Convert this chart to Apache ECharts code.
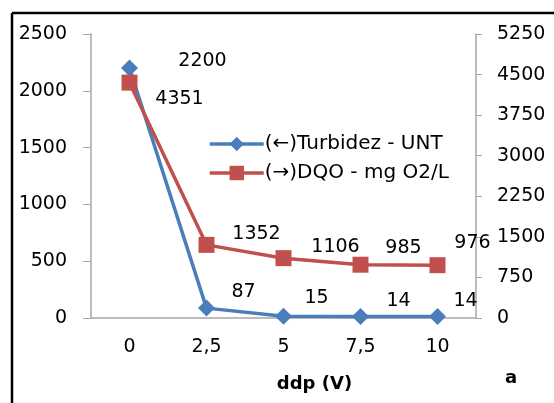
<!DOCTYPE html>
<html>
<head>
<meta charset="utf-8">
<script src="https://cdn.jsdelivr.net/npm/echarts@6/dist/echarts.min.js"></script>
<style>
  html, body { margin: 0; padding: 0; background: #fff; }
  #chart { width: 554px; height: 403px; }
</style>
</head>
<body>
<div id="chart"></div>
<script>
// valores
const ddpLabels = ['0', '2,5', '5', '7,5', '10'];
const turbidez = [2200, 87, 15, 14, 14];
const dqo = [4351, 1352, 1106, 985, 976];
const leftTicks = [0, 2500, 500];
const rightTicks = [0, 5250, 750];

// deslocamento dos rotulos (estilo, nao dados)
const turbOffsets = [[73, -7], [37, -16], [33, -18], [38, -15], [28, -15]];
const dqoOffsets = [[50, 16], [50, -11], [52, -11], [43, -17], [35, -22]];

const FONT = 'DejaVu Sans';
const FS = 19;
const axisGray = '#a6a6a6';

function withLabels(values, offsets) {
  return values.map(function (v, i) {
    return { value: v, label: { offset: offsets[i] } };
  });
}
function plain(v) { return String(v); }

const chart = echarts.init(document.getElementById('chart'));
chart.setOption({
  animation: false,
  textStyle: { fontFamily: FONT },
  grid: { left: 91, right: 78, top: 34, bottom: 85 },
  legend: {
    orient: 'vertical',
    left: 203,
    top: 129,
    itemWidth: 54,
    itemHeight: 18,
    itemGap: 9,
    lineStyle: { width: 3.5 },
    textStyle: { fontFamily: FONT, fontSize: 20, color: '#000', padding: [0, 0, 0, -4] },
    data: ['(←)Turbidez - UNT', '(→)DQO - mg O2/L']
  },
  xAxis: {
    type: 'category',
    data: ddpLabels,
    boundaryGap: true,
    name: 'ddp (V)',
    nameLocation: 'middle',
    nameGap: 57,
    nameTextStyle: { fontFamily: FONT, fontSize: 18, fontWeight: 'bold', color: '#000', padding: [0, 0, 0, 62] },
    axisLine: { lineStyle: { color: axisGray, width: 1.5 } },
    axisTick: { length: 9, lineStyle: { color: axisGray } },
    axisLabel: { fontSize: FS, color: '#000', margin: 20 }
  },
  yAxis: [{
    type: 'value',
    position: 'left',
    min: leftTicks[0],
    max: leftTicks[1],
    interval: leftTicks[2],
    axisLine: { show: true, lineStyle: { color: axisGray, width: 1.5 } },
    axisTick: { show: true, length: 8, lineStyle: { color: axisGray } },
    splitLine: { show: false },
    axisLabel: { fontSize: FS, color: '#000', margin: 24, formatter: plain }
  }, {
    type: 'value',
    position: 'right',
    min: rightTicks[0],
    max: rightTicks[1],
    interval: rightTicks[2],
    axisLine: { show: true, lineStyle: { color: axisGray, width: 1.5 } },
    axisTick: { show: true, length: 6, lineStyle: { color: axisGray } },
    splitLine: { show: false },
    axisLabel: { fontSize: FS, color: '#000', margin: 21, formatter: plain }
  }],
  series: [{
    name: '(←)Turbidez - UNT',
    type: 'line',
    yAxisIndex: 0,
    data: withLabels(turbidez, turbOffsets),
    symbol: 'diamond',
    symbolSize: 17,
    lineStyle: { color: '#4a7ebb', width: 3.5 },
    itemStyle: { color: '#4a7ebb' },
    label: { show: true, position: 'inside', fontSize: FS, color: '#000', fontFamily: FONT },
    z: 3
  }, {
    name: '(→)DQO - mg O2/L',
    type: 'line',
    yAxisIndex: 1,
    data: withLabels(dqo, dqoOffsets),
    symbol: 'rect',
    symbolSize: 16,
    lineStyle: { color: '#c0504d', width: 3.5 },
    itemStyle: { color: '#c0504d' },
    label: { show: true, position: 'inside', fontSize: FS, color: '#000', fontFamily: FONT },
    z: 4
  }],
  graphic: [
    { type: 'line', shape: { x1: 12, y1: 13, x2: 12, y2: 403 }, style: { stroke: '#000', lineWidth: 2.5 } },
    { type: 'line', shape: { x1: 12, y1: 13, x2: 554, y2: 13 }, style: { stroke: '#000', lineWidth: 2.5 } },
    { type: 'text', left: 505, top: 369, style: { text: 'a', fontFamily: FONT, fontSize: 18, fontWeight: 'bold', fill: '#000' } }
  ]
});
</script>
</body>
</html>
